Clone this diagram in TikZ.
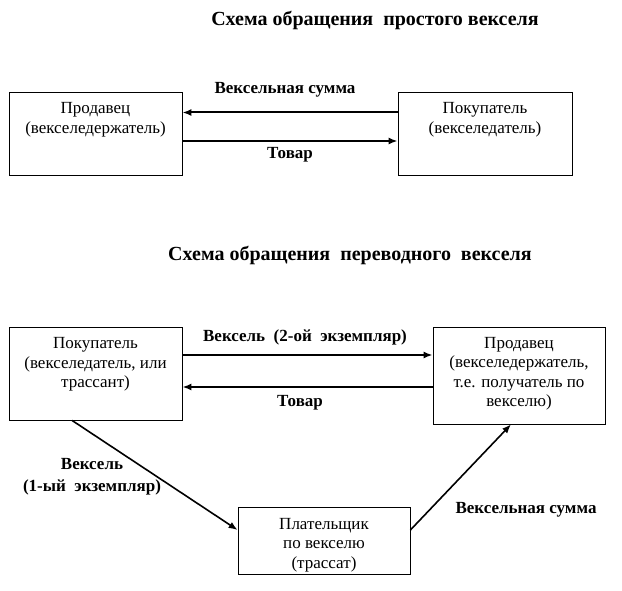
\documentclass[tikz,border=0pt]{standalone}
\usepackage{fontspec}
\setmainfont{Liberation Serif}
\usetikzlibrary{arrows.meta}

\begin{document}
\begin{tikzpicture}[x = 1pt, y = -1pt,
		box/.style = {draw, line width = 0.8pt, inner sep = 0pt},
		boxtext/.style = {align = center, inner sep = 0pt, font = \fontsize{17}{19.5}\selectfont},
		lbl/.style = {align = center, inner sep = 0pt, font = \bfseries\fontsize{17}{22}\selectfont},
		title/.style = {inner sep = 0pt, font = \bfseries\fontsize{20}{24}\selectfont},
		arr/.style = {-{Latex[length = 9pt, width = 7pt]}, line width = 2pt},
		darr/.style = {-{Latex[length = 9pt, width = 7pt]}, line width = 1.6pt}]
			\useasboundingbox (0, 0) rectangle (622, 591);
			\node[title] (t1) at (375, 20) {Схема обращения\ \ простого векселя};
			\node[box, minimum width = 173pt, minimum height = 83pt] (seller1) at (95.5, 133.5) {};
				\node[boxtext] (seller1t) at (95.5, 119.5) {Продавец\\(векселедержатель)};
			\node[box, minimum width = 174pt, minimum height = 83pt] (buyer1) at (485, 133.5) {};
				\node[boxtext] (buyer1t) at (485, 119.5) {Покупатель\\(векселедатель)};
			\draw[arr] ([yshift = 21pt]buyer1.west) -- ([yshift = 21pt]seller1.east);
				\node[lbl] (sum1) at (285, 90) {Вексельная сумма};
			\draw[arr] ([yshift = -7.5pt]seller1.east) -- ([yshift = -7.5pt]buyer1.west);
				\node[lbl] (goods1) at (290, 155) {Товар};

			\node[title] (t2) at (350, 255) {Схема обращения\ \ переводного\ \ векселя};
			\node[box, minimum width = 173pt, minimum height = 93pt] (buyer2) at (95.5, 373.5) {};
				\node[boxtext] (buyer2t) at (95.5, 364.5) {Покупатель\\(векселедатель, или\\трассант)};
			\node[box, minimum width = 172pt, minimum height = 97pt] (seller2) at (519, 375.5) {};
				\node[boxtext] (seller2t) at (519, 373.5) {Продавец\\(векселедержатель,\\т.е. получатель по\\векселю)};
			\node[box, minimum width = 172pt, minimum height = 67pt] (payer) at (324, 540.5) {};
				\node[boxtext] (payert) at (324, 545) {Плательщик\\по векселю\\(трассат)};
			\draw[arr] ([yshift = 18.5pt]buyer2.east) coordinate (b2) -- (seller2.west |- b2);
				\node[lbl] (bill2) at (305, 337) {Вексель\ \ (2-ой\ \ экземпляр)};
			\draw[arr] ([yshift = -11.5pt]seller2.west) coordinate (s2) -- (buyer2.east |- s2);
				\node[lbl] (goods2) at (300, 403) {Товар};
			\draw[darr] ([xshift = -23.5pt]buyer2.south) -- ([yshift = 10.5pt]payer.west);
				\node[lbl] (bill1) at (92, 477) {Вексель\\(1-ый\ \ экземпляр)};
			\draw[darr] ([yshift = 10.5pt]payer.east) -- ([xshift = -8pt]seller2.south);
				\node[lbl] (sum2) at (526, 510) {Вексельная сумма};
		\end{tikzpicture}
\end{document}
